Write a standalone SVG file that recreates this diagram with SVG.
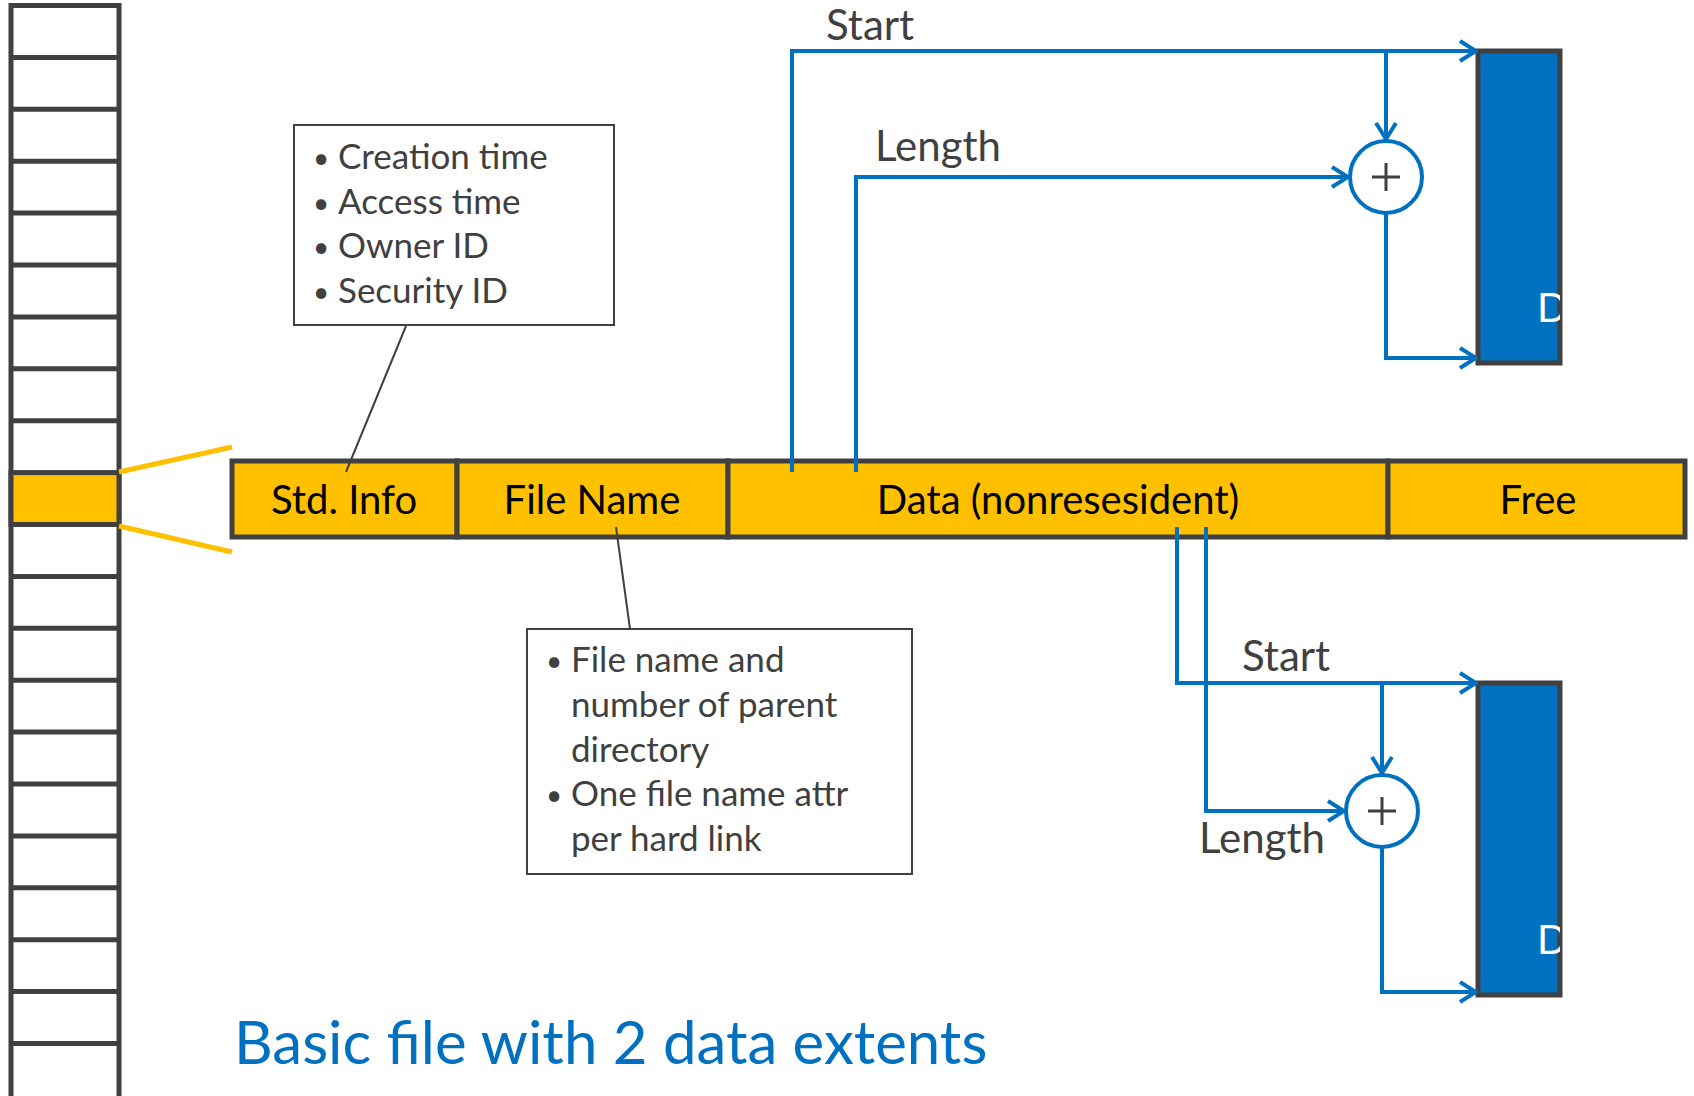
<svg xmlns="http://www.w3.org/2000/svg" width="1694" height="1096" viewBox="0 0 1694 1096">
  <style>
    .cell { fill: #ffffff; stroke: #404040; stroke-width: 5; }
    .attr { fill: #FFC000; stroke: #404040; stroke-width: 5; }
    .note { fill: #ffffff; stroke: #404040; stroke-width: 2; }
    .lead { stroke: #404040; stroke-width: 2; fill: none; }
    .zoom { stroke: #FFC000; stroke-width: 5; fill: none; }
    .arrow { stroke: #0070C0; stroke-width: 4; fill: none; marker-end: url(#chev); }
    .adder { fill: #ffffff; stroke: #0070C0; stroke-width: 4; }
    .plus { stroke: #404040; stroke-width: 3; }
    .extent { fill: #0070C0; stroke: #404040; stroke-width: 5; }
    .lbl { font-family: Lato, "Noto Sans", sans-serif; font-size: 40px; fill: #000000; text-anchor: middle; }
    .txt { font-family: Lato, "Noto Sans", sans-serif; font-size: 35px; fill: #404040; }
    .bul { font-family: Lato, "Noto Sans", sans-serif; font-size: 28px; fill: #404040; }
    .cap { font-family: Lato, "Noto Sans", sans-serif; font-size: 42px; fill: #404040; }
    .dl { font-family: Lato, "Noto Sans", sans-serif; font-size: 40px; fill: #ffffff; }
    .title { font-family: Lato, "Noto Sans", sans-serif; font-size: 60px; fill: #0070C0; }
  </style>
  <defs>
    <marker id="chev" markerUnits="userSpaceOnUse" viewBox="0 0 20 24" refX="18" refY="12" markerWidth="20" markerHeight="24" orient="auto">
      <path d="M2,2 L18,12 L2,22" fill="none" stroke="#0070C0" stroke-width="4"/>
    </marker>
    <clipPath id="clipTop"><rect x="1478" y="51" width="82" height="312"/></clipPath>
    <clipPath id="clipBot"><rect x="1478" y="683" width="82" height="312"/></clipPath>
  </defs>

  <!-- MFT record column -->
  <g id="mft">
    <rect class="cell" x="11" y="5.5" width="108" height="1120"/>
    <path d="M11,57.4H119M11,109.3H119M11,161.2H119M11,213.1H119M11,265H119M11,316.9H119M11,368.8H119M11,420.7H119M11,524.5H119M11,576.4H119M11,628.3H119M11,680.2H119M11,732.1H119M11,784H119M11,835.9H119M11,887.8H119M11,939.7H119M11,991.6H119M11,1043.5H119" stroke="#404040" stroke-width="5"/>
    <rect class="attr" x="11" y="472.6" width="108" height="51.9"/>
  </g>

  <!-- zoom lines from the selected record -->
  <g id="zoom-lines">
    <line class="zoom" x1="119" y1="472" x2="232" y2="447"/>
    <line class="zoom" x1="119" y1="526" x2="232" y2="552"/>
  </g>

  <!-- record attributes -->
  <g id="std-info">
    <rect class="attr" x="232" y="461" width="225" height="76"/>
    <text class="lbl" x="344" y="514">Std. Info</text>
  </g>
  <g id="file-name">
    <rect class="attr" x="457" y="461" width="271" height="76"/>
    <text class="lbl" x="592" y="514">File Name</text>
  </g>
  <g id="data">
    <rect class="attr" x="728" y="461" width="660" height="76"/>
    <text class="lbl" x="1058" y="514">Data (nonresesident)</text>
  </g>
  <g id="free">
    <rect class="attr" x="1388" y="461" width="297" height="76"/>
    <text class="lbl" x="1538" y="514">Free</text>
  </g>

  <!-- callouts -->
  <g id="std-info-note">
    <rect class="note" x="294" y="125" width="320" height="200"/>
    <text class="bul" x="313" y="168">•</text><text class="txt" x="338" y="169">Creation time</text>
    <text class="bul" x="313" y="213">•</text><text class="txt" x="338" y="214">Access time</text>
    <text class="bul" x="313" y="257">•</text><text class="txt" x="338" y="258">Owner ID</text>
    <text class="bul" x="313" y="302">•</text><text class="txt" x="338" y="303">Security ID</text>
  </g>
  <g id="file-name-note">
    <rect class="note" x="527" y="629" width="385" height="245"/>
    <text class="bul" x="546" y="671">•</text><text class="txt" x="571" y="672">File name and</text>
    <text class="txt" x="571" y="717">number of parent</text>
    <text class="txt" x="571" y="762">directory</text>
    <text class="bul" x="546" y="805">•</text><text class="txt" x="571" y="806">One file name attr</text>
    <text class="txt" x="571" y="851">per hard link</text>
  </g>

  <!-- extent adders -->
  <g id="adder-1">
    <circle class="adder" cx="1386" cy="177" r="36"/>
    <path class="plus" d="M1372,177H1400M1386,163V191"/>
  </g>
  <g id="adder-2">
    <circle class="adder" cx="1382" cy="811" r="36"/>
    <path class="plus" d="M1368,811H1396M1382,797V825"/>
  </g>

  <!-- data extents on disk -->
  <g id="extent-1">
    <rect class="extent" x="1478" y="51" width="82" height="312"/>
    <text class="dl" x="1537" y="322" clip-path="url(#clipTop)">D</text>
  </g>
  <g id="extent-2">
    <rect class="extent" x="1478" y="683" width="82" height="312"/>
    <text class="dl" x="1537" y="954" clip-path="url(#clipBot)">D</text>
  </g>

  <!-- connectors -->
  <g id="connectors">
    <line class="lead" x1="406" y1="326" x2="346" y2="472"/>
    <line class="lead" x1="616" y1="527" x2="630" y2="629"/>

    <polyline class="arrow" points="792,472 792,51 1476,51"/>
    <polyline class="arrow" points="856,472 856,177 1348,177"/>
    <line class="arrow" x1="1386" y1="51" x2="1386" y2="139"/>
    <polyline class="arrow" points="1386,213 1386,358 1476,358"/>

    <polyline class="arrow" points="1177,527 1177,683 1476,683"/>
    <polyline class="arrow" points="1206,527 1206,811 1344,811"/>
    <line class="arrow" x1="1382" y1="683" x2="1382" y2="773"/>
    <polyline class="arrow" points="1382,847 1382,992 1476,992"/>
  </g>

  <!-- connector labels -->
  <g id="labels">
    <text class="cap" x="826" y="40" font-size="40">Start</text>
    <text class="cap" x="875" y="161">Length</text>
    <text class="cap" x="1242" y="671">Start</text>
    <text class="cap" x="1199" y="853">Length</text>
  </g>

  <text class="title" x="234" y="1064">Basic file with 2 data extents</text>
</svg>
